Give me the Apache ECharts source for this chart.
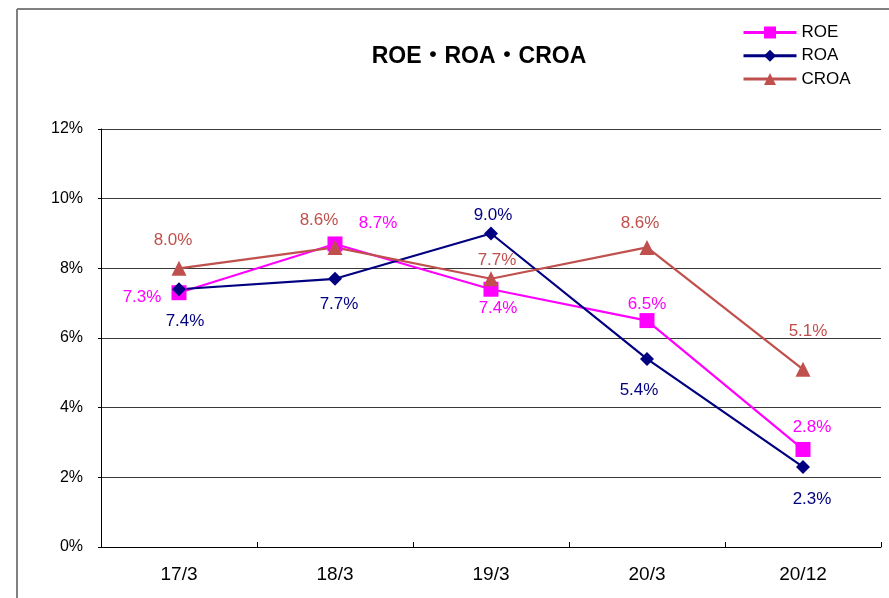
<!DOCTYPE html>
<html>
<head>
<meta charset="utf-8">
<script src="https://cdn.jsdelivr.net/npm/echarts@6/dist/echarts.min.js"></script>
<style>
html,body{margin:0;padding:0;background:#fff;}
#chart{width:889px;height:598px;}
</style>
</head>
<body>
<div id="chart"></div>
<script>
const categories = ['17/3', '18/3', '19/3', '20/3', '20/12'];
const roe = [7.3, 8.7, 7.4, 6.5, 2.8];
const roa = [7.4, 7.7, 9.0, 5.4, 2.3];
const croa = [8.0, 8.6, 7.7, 8.6, 5.1];
const yTicks = [0, 2, 4, 6, 8, 10, 12];

// label offsets (styling only)
const roeOff = [[-37, 5], [43, -21], [7, 19], [0, -16], [9, -22]];
const roaOff = [[6, 32], [4, 26], [2, -18], [-8, 31], [9, 32]];
const croaOff = [[-6, -28], [-16, -27], [6, -18], [-7, -24], [5, -38]];

const FONT = "'Liberation Sans', 'Noto Sans CJK JP', sans-serif";

function mk(vals, offs) {
  return vals.map((v, i) => ({
    value: v,
    label: { offset: offs[i] }
  }));
}

function series(name, vals, offs, color, symbol, size) {
  return {
    name: name,
    type: 'line',
    data: mk(vals, offs),
    symbol: symbol,
    symbolSize: size,
    lineStyle: { color: color, width: 2.2 },
    itemStyle: { color: color },
    label: {
      show: true,
      position: 'inside',
      color: color,
      fontSize: 17,
      fontFamily: FONT,
      formatter: p => p.value.toFixed(1) + '%'
    },
    emphasis: { disabled: true },
    animation: false
  };
}

const chart = echarts.init(document.getElementById('chart'), null, { renderer: 'canvas' });
chart.setOption({
  backgroundColor: '#fff',
  animation: false,
  title: {
    text: 'ROE・ROA・CROA',
    left: 474,
    textAlign: 'center',
    top: 40,
    textStyle: { fontSize: 23, fontWeight: 'bold', color: '#000', fontFamily: FONT }
  },
  legend: {
    orient: 'vertical',
    left: 742,
    top: 24,
    padding: 0,
    itemWidth: 53,
    itemHeight: 15,
    itemGap: 8.5,
    itemGap: 8.5 - 2.3,
    itemStyle: { borderWidth: 0 },
    lineStyle: { width: 3 },
    textStyle: { fontSize: 17, color: '#000', fontFamily: FONT },
    data: ['ROE', 'ROA', 'CROA']
  },
  graphic: [
    { type: 'line', shape: { x1: 17, y1: 9, x2: 889, y2: 9 }, style: { stroke: '#000', lineWidth: 1 } },
    { type: 'line', shape: { x1: 17, y1: 9, x2: 17, y2: 598 }, style: { stroke: '#808080', lineWidth: 2 } }
  ],
  grid: { left: 101, right: 8, top: 129, bottom: 51, containLabel: false },
  xAxis: {
    type: 'category',
    data: categories,
    boundaryGap: true,
    axisLine: { lineStyle: { color: '#000', width: 1 } },
    axisTick: { show: true, inside: true, length: 5, interval: 0, lineStyle: { color: '#000' } },
    axisLabel: { fontSize: 19, color: '#000', fontFamily: FONT, margin: 18 }
  },
  yAxis: {
    type: 'value',
    min: yTicks[0],
    max: yTicks[yTicks.length - 1],
    interval: 2,
    axisLine: { show: true, lineStyle: { color: '#000', width: 1 } },
    axisTick: { show: true, length: 3, lineStyle: { color: '#000' } },
    axisLabel: { fontSize: 16, color: '#000', fontFamily: FONT, margin: 18, formatter: '{value}%' },
    splitLine: { show: true, lineStyle: { color: '#3a3a3a', width: 1 } }
  },
  series: [
    series('ROE', roe, roeOff, '#FF00FF', 'rect', 15),
    series('ROA', roa, roaOff, '#000080', 'diamond', 14),
    series('CROA', croa, croaOff, '#C0504D', 'triangle', 15)
  ]
});
</script>
</body>
</html>
